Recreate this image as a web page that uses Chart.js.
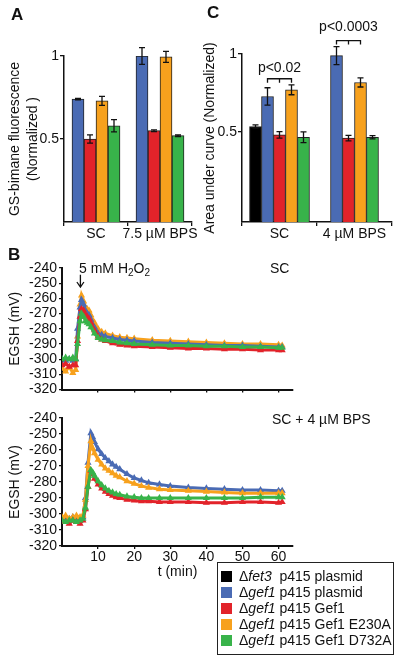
<!DOCTYPE html>
<html>
<head>
<meta charset="UTF-8" />
<title>Gef1 figure</title>
<script src="https://cdn.jsdelivr.net/npm/chart.js@4.4.0/dist/chart.umd.min.js"></script>
<style>
  body { margin: 0; background: #fff; font-family: "Liberation Sans", Arial, sans-serif; color: #111; }
  #fig { position: relative; width: 404px; height: 662px; overflow: hidden; }
  canvas { position: absolute; }
  .lab { position: absolute; white-space: nowrap; font-size: 14px; line-height: 16px; }
  .panel { position: absolute; font-weight: bold; font-size: 17px; line-height: 17px; }
  sub { font-size: 10px; vertical-align: -3px; line-height: 0; }
  #legend { position: absolute; left: 217px; top: 562px; width: 172px; height: 86px;
            border: 1.5px solid #222; padding: 5px 0 0 3px; font-size: 14px; line-height: 16px; }
  #legend div { white-space: nowrap; }
  #legend span { display: inline-block; width: 11px; height: 11px; margin-right: 7px; vertical-align: -1px; }
</style>
</head>
<body>
<div id="fig">
  <canvas id="chartA" width="200" height="260" style="left:0;top:0"></canvas>
  <canvas id="chartC" width="204" height="260" style="left:200px;top:0"></canvas>
  <canvas id="chartB1" width="300" height="150" style="left:0;top:250px"></canvas>
  <canvas id="chartB2" width="300" height="185" style="left:0;top:400px"></canvas>

  <div class="panel" style="left:11px;top:6px">A</div>
  <div class="panel" style="left:207px;top:4px">C</div>
  <div class="panel" style="left:8px;top:246px">B</div>

  <div class="lab" style="left:79px;top:260px">5 mM H<sub>2</sub>O<sub>2</sub></div>
  <div class="lab" style="left:270px;top:260px">SC</div>
  <div class="lab" style="left:272px;top:411px">SC + 4 µM BPS</div>

  <div id="legend">
    <div><span style="background:#000"></span>Δ<i>fet3</i>&nbsp; p415 plasmid</div>
    <div><span style="background:#4a6bb4"></span>Δ<i>gef1</i> p415 plasmid</div>
    <div><span style="background:#e2232a"></span>Δ<i>gef1</i> p415 Gef1</div>
    <div><span style="background:#f7a11d"></span>Δ<i>gef1</i> p415 Gef1 E230A</div>
    <div><span style="background:#38b34a"></span>Δ<i>gef1</i> p415 Gef1 D732A</div>
  </div>
</div>

<script>
// ---- data ----
const black = '#000000', blue = '#4a6bb4', red = '#e2232a', orange = '#f7a11d', green = '#38b34a';

// panel A, GS-bimane fluorescence
const catsA = ['SC', '7.5 µM BPS'];
const aPlasmid = [0.74, 1.00];
const aPlasmidErr = [0.004, 0.05];
const aGef1 = [0.50, 0.55];
const aGef1Err = [0.025, 0.005];
const aE230A = [0.73, 0.995];
const aE230AErr = [0.027, 0.033];
const aD732A = [0.58, 0.52];
const aD732AErr = [0.037, 0.005];

// panel C, area under curve
const catsC = ['SC', '4 µM BPS'];
const cFet3 = [0.534, null];
const cFet3Err = [0.011, null];
const cPlasmid = [0.727, 0.99];
const cPlasmidErr = [0.056, 0.058];
const cGef1 = [0.48, 0.459];
const cGef1Err = [0.021, 0.018];
const cE230A = [0.77, 0.817];
const cE230AErr = [0.032, 0.029];
const cD732A = [0.465, 0.465];
const cD732AErr = [0.035, 0.01];
const sigTests = [
  { cat: 0, from: 1, to: 3, level: 0.841, textLevel: 0.912, text: 'p<0.02' },
  { cat: 1, from: 1, to: 3, level: 1.086, textLevel: 1.17, text: 'p<0.0003' }
];
const barTicks = [0.5, 1];

// panel B top, SC
const tSC = [0, 1, 2, 3, 3.8, 4.3, 5, 5.4, 6, 6.5, 7, 7.5, 8, 9, 10, 11, 12, 14, 16, 18, 20, 25, 30, 35, 40, 45, 50, 55, 60, 61];
const scPlasmid = [-300, -301, -300, -301, -300, -280, -266, -261, -264, -268, -270, -271, -274, -279, -283, -284, -285, -286, -287, -287.5, -288, -289, -289.5, -290, -290.5, -291, -291, -291.5, -292, -292];
const scE230A = [-306, -308, -305, -309, -307, -285, -264, -258, -262, -266, -267, -268, -271, -276, -280, -282, -283, -284.5, -285.5, -286, -286.5, -287.5, -288, -288.5, -289, -289.5, -290, -290, -290.5, -291];
const scGef1 = [-304, -303, -305, -304, -304, -288, -272, -267, -268, -271, -272, -273.5, -276, -281, -285, -287, -288, -289.5, -290.5, -291, -291.5, -292, -292.5, -293, -293, -293.5, -293.5, -294, -294, -294];
const scD732A = [-300, -299, -300, -299, -300, -290, -275, -270, -272, -275, -276, -277, -279, -283, -286, -287, -287.5, -288, -289, -289.5, -290, -290.5, -291, -291, -291.5, -291.5, -292, -292, -292.5, -292.5];

// panel B bottom, SC + 4 uM BPS
const tBPS = [0, 1, 2, 3, 4, 5, 5.8, 6.5, 7.2, 8, 8.5, 9, 10, 11, 12, 13, 14, 15, 16, 18, 20, 22, 24, 27, 30, 35, 40, 45, 50, 55, 60, 61];
const bpsPlasmid = [-303, -304, -303, -302, -304, -303, -302, -290, -268, -249.5, -252, -255, -259.5, -262.5, -265, -267, -269, -270.5, -272, -275, -277.5, -279, -280.5, -281.5, -282.5, -283.5, -284, -284.5, -285, -285, -285.5, -285.5];
const bpsE230A = [-302, -301, -303, -302, -301, -302, -301, -291, -270, -254.5, -259, -262, -266, -269, -271.5, -273, -274.5, -276, -277, -279.5, -281, -282.5, -283.5, -284.5, -285, -285.5, -286, -286.5, -287, -287, -287, -287];
const bpsGef1 = [-305, -305, -306, -304, -305, -306, -304, -297, -283, -273, -275, -278, -281.5, -284, -286, -287.5, -288.5, -289.5, -290, -291, -291.5, -292, -292, -292.5, -292.5, -292.5, -293, -293, -292.5, -292.5, -293, -292.5];
const bpsD732A = [-304, -305, -304, -304, -305, -304, -303, -296, -283, -272.5, -274, -276, -279.5, -282, -284, -285.5, -286.5, -287.5, -288, -289, -289.5, -290, -290, -290, -290, -290, -290, -290, -290, -289.5, -289.5, -289.5];

const xTicksB = [10, 20, 30, 40, 50, 60];
const arrow = { t: 5.1, from: -244.5, to: -252.5 };

// ---- shared look ----
Chart.defaults.font.family = '"Liberation Sans", Arial, sans-serif';
Chart.defaults.font.size = 13;
Chart.defaults.color = '#111';
Chart.defaults.animation = false;
Chart.defaults.plugins.legend.display = false;
Chart.defaults.plugins.tooltip.enabled = false;

const axisGrid = { drawOnChartArea: false, color: '#111', tickLength: 4, lineWidth: 1.3 };
const axisBorder = { color: '#111', width: 1.5 };

// error bars drawn from the y scale
const errorBars = {
  id: 'errorBars',
  afterDatasetsDraw(chart) {
    const ctx = chart.ctx, y = chart.scales.y;
    ctx.save();
    ctx.strokeStyle = '#111';
    ctx.lineWidth = 1.3;
    chart.data.datasets.forEach((ds, i) => {
      chart.getDatasetMeta(i).data.forEach((bar, j) => {
        const v = ds.data[j], e = ds.errors[j];
        if (v == null || e == null) return;
        const top = y.getPixelForValue(v + e), bot = y.getPixelForValue(v - e);
        ctx.beginPath();
        ctx.moveTo(bar.x, top); ctx.lineTo(bar.x, bot);
        ctx.moveTo(bar.x - 3, top); ctx.lineTo(bar.x + 3, top);
        ctx.moveTo(bar.x - 3, bot); ctx.lineTo(bar.x + 3, bot);
        ctx.stroke();
      });
    });
    ctx.restore();
  }
};

const brackets = {
  id: 'brackets',
  afterDatasetsDraw(chart) {
    const ctx = chart.ctx, y = chart.scales.y;
    ctx.save();
    ctx.strokeStyle = '#111';
    ctx.fillStyle = '#111';
    ctx.lineWidth = 1.3;
    ctx.font = '14px "Liberation Sans", Arial, sans-serif';
    ctx.textAlign = 'center';
    ctx.textBaseline = 'middle';
    sigTests.forEach(s => {
      const x1 = chart.getDatasetMeta(s.from).data[s.cat].x;
      const x2 = chart.getDatasetMeta(s.to).data[s.cat].x;
      const ly = y.getPixelForValue(s.level), xm = (x1 + x2) / 2;
      ctx.beginPath();
      ctx.moveTo(x1, ly + 4); ctx.lineTo(x1, ly); ctx.lineTo(x2, ly); ctx.lineTo(x2, ly + 4);
      ctx.moveTo(xm, ly); ctx.lineTo(xm, ly + 4);
      ctx.stroke();
      ctx.fillText(s.text, xm, y.getPixelForValue(s.textLevel));
    });
    ctx.restore();
  }
};

const arrowPlugin = {
  id: 'arrow',
  afterDraw(chart) {
    const ctx = chart.ctx;
    const x = chart.scales.x.getPixelForValue(arrow.t);
    const y1 = chart.scales.y.getPixelForValue(arrow.from), y2 = chart.scales.y.getPixelForValue(arrow.to);
    ctx.save();
    ctx.strokeStyle = '#111';
    ctx.lineWidth = 1.3;
    ctx.beginPath();
    ctx.moveTo(x, y1); ctx.lineTo(x, y2);
    ctx.moveTo(x - 3.5, y2 - 5); ctx.lineTo(x, y2); ctx.lineTo(x + 3.5, y2 - 5);
    ctx.stroke();
    ctx.restore();
  }
};

function barSet(data, errors, color, base) {
  return { data: data, errors: errors, backgroundColor: color, borderColor: '#222',
           borderWidth: 1, barThickness: 12, skipNull: true, base: base };
}

function barOptions(yw, pad, min, title, titlePad) {
  return {
    responsive: false,
    layout: { padding: pad },
    scales: {
      x: {
        grid: axisGrid, border: axisBorder,
        ticks: { padding: 0, font: { size: 14 }, autoSkip: false, maxRotation: 0, minRotation: 0 },
        afterFit: s => { s.height = 38; }
      },
      y: {
        min: min, max: 1,
        grid: axisGrid, border: axisBorder,
        ticks: { padding: 1, font: { size: 14 }, callback: v => String(v) },
        afterBuildTicks: s => { s.ticks = barTicks.map(v => ({ value: v })); },
        afterFit: s => { s.width = yw; },
        title: { display: true, text: title, font: { size: 14, lineHeight: 1.3 }, padding: titlePad }
      }
    }
  };
}

new Chart(document.getElementById('chartA'), {
  type: 'bar',
  data: {
    labels: catsA,
    datasets: [
      barSet(aPlasmid, aPlasmidErr, blue),
      barSet(aGef1, aGef1Err, red),
      barSet(aE230A, aE230AErr, orange),
      barSet(aD732A, aD732AErr, green)
    ]
  },
  options: barOptions(64, { top: 56, right: 8, left: 0, bottom: 0 }, 0,
    ['GS-bimane fluorescence', '(Normalized )'], { top: 6, bottom: 0 }),
  plugins: [errorBars]
});

new Chart(document.getElementById('chartC'), {
  type: 'bar',
  data: {
    labels: catsC,
    datasets: [
      barSet(cFet3, cFet3Err, black, -0.08),
      barSet(cPlasmid, cPlasmidErr, blue, -0.08),
      barSet(cGef1, cGef1Err, red, -0.08),
      barSet(cE230A, cE230AErr, orange, -0.08),
      barSet(cD732A, cD732AErr, green, -0.08)
    ]
  },
  options: barOptions(42, { top: 54, right: 12, left: 0, bottom: 0 }, -0.08,
    'Area under curve (Normalized)', { top: 1, bottom: 0 }),
  plugins: [errorBars, brackets]
});

function lineSet(t, v, color) {
  return {
    data: t.map((x, i) => ({ x: x, y: v[i] })),
    borderColor: color, backgroundColor: color,
    borderWidth: 3, pointRadius: 1.1, pointStyle: 'triangle', tension: 0
  };
}

function lineOptions(showX, xh, padTop) {
  return {
    responsive: false,
    layout: { padding: { top: padTop, right: 4, left: 0, bottom: 0 } },
    scales: {
      x: {
        type: 'linear', min: 0, max: 64,
        grid: { drawOnChartArea: false, color: '#111', tickLength: 3, lineWidth: 1.3 },
        border: { color: '#111', width: 2 },
        ticks: { display: showX, padding: 0, font: { size: 14 }, autoSkip: false, maxRotation: 0 },
        afterBuildTicks: s => { s.ticks = xTicksB.map(v => ({ value: v })); },
        afterFit: s => { s.height = xh; },
        title: { display: showX, text: 't (min)', font: { size: 14 }, padding: { top: 0, bottom: 4 } }
      },
      y: {
        min: -320, max: -240,
        grid: { drawOnChartArea: false, color: '#111', tickLength: 3, lineWidth: 1.3 },
        border: { color: '#111', width: 2 },
        ticks: { stepSize: 10, padding: 2, autoSkip: false, font: { size: 14 } },
        afterFit: s => { s.width = 62; },
        title: { display: true, text: 'EGSH (mV)', font: { size: 14 }, padding: { top: 7, bottom: 0 } }
      }
    }
  };
}

new Chart(document.getElementById('chartB1'), {
  type: 'line',
  data: {
    datasets: [
      lineSet(tSC, scD732A, green),
      lineSet(tSC, scGef1, red),
      lineSet(tSC, scPlasmid, blue),
      lineSet(tSC, scE230A, orange)
    ]
  },
  options: lineOptions(false, 5, 18),
  plugins: [arrowPlugin]
});

new Chart(document.getElementById('chartB2'), {
  type: 'line',
  data: {
    datasets: [
      lineSet(tBPS, bpsD732A, green),
      lineSet(tBPS, bpsGef1, red),
      lineSet(tBPS, bpsE230A, orange),
      lineSet(tBPS, bpsPlasmid, blue)
    ]
  },
  options: lineOptions(true, 39, 18)
});
</script>
</body>
</html>
